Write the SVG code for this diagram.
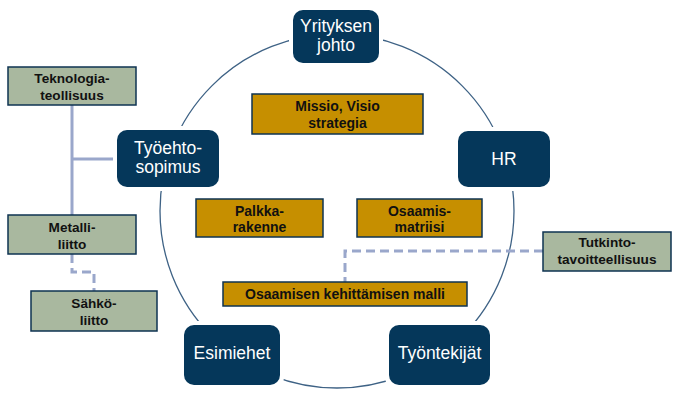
<svg xmlns="http://www.w3.org/2000/svg" width="682" height="412" viewBox="0 0 682 412">
<style>
.node{fill:#05375A;}
.halo{fill:#fff;}
.nt{font-family:"Liberation Sans",Arial,sans-serif;font-size:17.5px;fill:#fff;text-anchor:middle;}
.ob{fill:#C68F00;stroke:#0E3352;stroke-width:1.5;}
.gb{fill:#A9B89F;stroke:#0E3352;stroke-width:1.5;}
.bt{font-family:"Liberation Sans",Arial,sans-serif;font-size:14px;font-weight:bold;fill:#111;text-anchor:middle;}
.gt{font-family:"Liberation Sans",Arial,sans-serif;font-size:13.6px;font-weight:bold;fill:#111;text-anchor:middle;}
.solid{fill:none;stroke:#9AA7CB;stroke-width:3;}
.dash{fill:none;stroke:#9AA7CB;stroke-width:3;stroke-dasharray:9,5;}
</style>
<rect width="682" height="412" fill="#fff"/>
<g id="cycle">
<circle cx="337" cy="211" r="177" fill="none" stroke="#3E6285" stroke-width="1.3"/>
</g>
<g id="connectors">
<path class="solid" d="M72,105 V215"/>
<path class="solid" d="M72,159 H117"/>
<path class="dash" d="M72,254 V272 H94 V291"/>
<path class="dash" d="M543,251 H345 V282"/>
</g>
<g id="yrityksen-johto">
<rect class="halo" x="289" y="6" width="94" height="61" rx="12"/>
<rect class="node" x="293" y="10" width="86" height="53" rx="10"/>
<text class="nt" x="336" y="32">Yrityksen</text>
<text class="nt" x="336" y="51">johto</text>
</g>
<g id="hr">
<rect class="halo" x="454" y="127" width="100" height="64" rx="12"/>
<rect class="node" x="458" y="131" width="92" height="56" rx="10"/>
<text class="nt" x="504" y="165">HR</text>
</g>
<g id="tyoehtosopimus">
<rect class="halo" x="113" y="126" width="110" height="65" rx="12"/>
<rect class="node" x="117" y="130" width="102" height="57" rx="10"/>
<text class="nt" x="168" y="154">Työehto-</text>
<text class="nt" x="168" y="173">sopimus</text>
</g>
<g id="esimiehet">
<rect class="halo" x="180" y="321" width="104" height="68" rx="12"/>
<rect class="node" x="184" y="325" width="96" height="60" rx="10"/>
<text class="nt" x="232" y="359">Esimiehet</text>
</g>
<g id="tyontekijat">
<rect class="halo" x="385" y="321" width="109" height="68" rx="12"/>
<rect class="node" x="389" y="325" width="101" height="60" rx="10"/>
<text class="nt" x="439.5" y="359">Työntekijät</text>
</g>
<g id="missio">
<rect class="ob" x="252" y="94" width="171" height="40"/>
<text class="bt" x="337.5" y="111">Missio, Visio</text>
<text class="bt" x="337.5" y="128">strategia</text>
</g>
<g id="palkkarakenne">
<rect class="ob" x="196" y="199" width="127" height="38"/>
<text class="bt" x="259.5" y="216">Palkka-</text>
<text class="bt" x="259.5" y="232">rakenne</text>
</g>
<g id="osaamismatriisi">
<rect class="ob" x="357" y="199" width="125" height="38"/>
<text class="bt" x="419.5" y="216">Osaamis-</text>
<text class="bt" x="419.5" y="232">matriisi</text>
</g>
<g id="kehittamisen-malli">
<rect class="ob" x="223" y="282" width="244" height="24"/>
<text class="bt" x="345" y="299">Osaamisen kehittämisen malli</text>
</g>
<g id="teknologiateollisuus">
<rect class="gb" x="8" y="67" width="128" height="38"/>
<text class="gt" x="72" y="83">Teknologia-</text>
<text class="gt" x="72" y="100">teollisuus</text>
</g>
<g id="metalliliitto">
<rect class="gb" x="8" y="215" width="128" height="39"/>
<text class="gt" x="72" y="232">Metalli-</text>
<text class="gt" x="72" y="249">liitto</text>
</g>
<g id="sahkoliitto">
<rect class="gb" x="31" y="291" width="126" height="40"/>
<text class="gt" x="94" y="308">Sähkö-</text>
<text class="gt" x="94" y="325">liitto</text>
</g>
<g id="tutkintotavoitteellisuus">
<rect class="gb" x="543" y="232" width="128" height="39"/>
<text class="gt" x="607" y="247">Tutkinto-</text>
<text class="gt" x="607" y="264">tavoitteellisuus</text>
</g>
</svg>
